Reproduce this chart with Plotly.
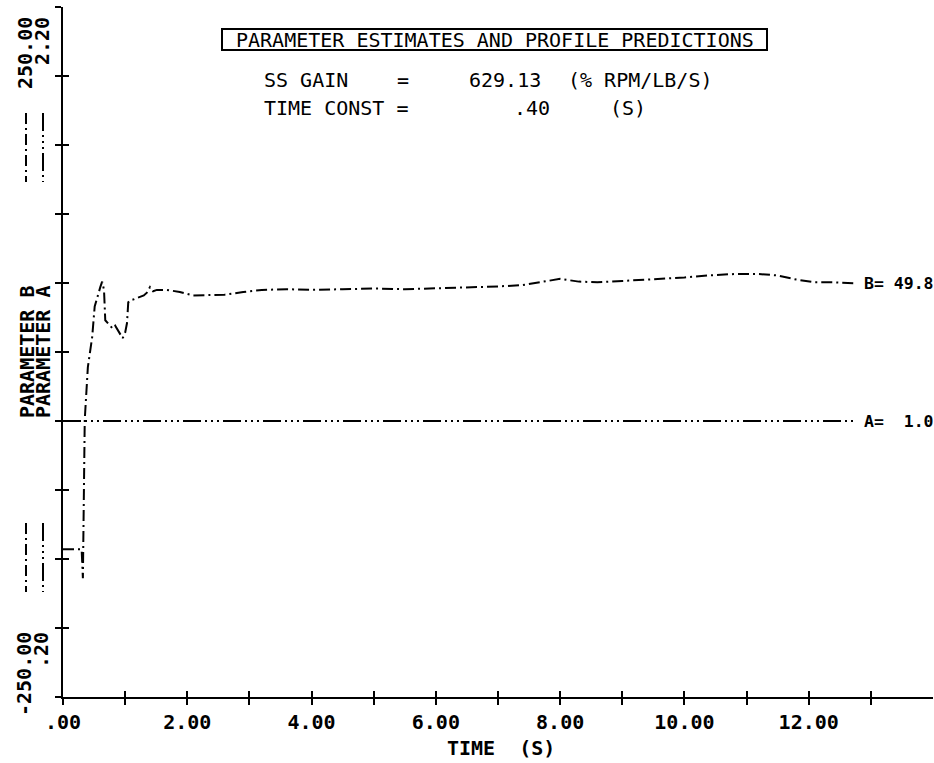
import plotly.graph_objects as go

# ---------------- data ----------------
TIME_B = [0.00, 0.24, 0.30, 0.32, 0.34, 0.35, 0.40, 0.47, 0.51, 0.56, 0.60, 0.63,
          0.66, 0.68, 0.72, 0.80, 0.84, 0.88, 0.92, 0.96, 1.00, 1.03, 1.05, 1.10,
          1.13, 1.24, 1.30, 1.35, 1.40, 1.45, 1.51, 1.67, 1.88, 2.09, 2.30, 2.60,
          2.90, 3.20, 3.60, 4.00, 4.50, 5.00, 5.50, 6.00, 6.50, 7.00, 7.40, 7.70,
          8.00, 8.30, 8.60, 9.00, 9.50, 10.00, 10.40, 10.80, 11.20, 11.50, 11.80,
          12.10, 12.40, 12.77]
PARAM_B = [-143, -143, -143, -164, -100, -49, -11, 11, 33, 42, 47, 51,
           45, 23, 21, 17, 19, 16, 14, 10, 14, 21, 36, 38,
           38, 40, 41, 43, 47, 44, 45, 45, 43.5, 41, 41, 41.5,
           43.5, 45, 45.5, 45, 45.5, 46, 45.5, 46, 47, 47.5, 48.5, 51,
           53, 51, 50.5, 51.5, 52.5, 54, 55.5, 56.5, 56.5, 55.5, 52.5,
           50.5, 50.5, 49.8]

TIME_A = [0.00, 12.77]
PARAM_A = [1.0, 1.0]

X_TICKS = [0, 1, 2, 3, 4, 5, 6, 7, 8, 9, 10, 11, 12, 13]
X_TICK_TEXT = [".00", "", "2.00", "", "4.00", "", "6.00", "", "8.00", "",
               "10.00", "", "12.00", ""]
Y_TICKS_B = [-250, -200, -150, -100, -50, 0, 50, 100, 150, 200, 250]
B_AXIS_LABELS = ["250.00", "-250.00"]
A_AXIS_LABELS = ["2.20", ".20"]
B_RANGE = [-250, 250]
A_RANGE = [0.20, 2.20]
X_RANGE = [0, 14.0]

TITLE = "PARAMETER ESTIMATES AND PROFILE PREDICTIONS"
SS_GAIN = "629.13"
SS_GAIN_UNIT = "(% RPM/LB/S)"
TIME_CONST = ".40"
TIME_CONST_UNIT = "(S)"

# ---------------- layout helpers (pixel -> paper) ----------------
W, H = 934, 763
L, R, T, B = 63, 1, 7, 66
PW, PH = W - L - R, H - T - B


def px(xp):
    return (xp - L) / PW


def py(yp):
    return (H - B - yp) / PH


MONO = "DejaVu Sans Mono"
txt_font = dict(family=MONO, size=20, color="black")
bold_font = dict(family=MONO, size=20, color="black", weight="bold")
small_bold = dict(family=MONO, size=16.5, color="black", weight="bold")

B_DASH = "11px,4px,2px,4px"
A_DASH = "18px,4px,2px,4px,2px,4px,2px,4px"

fig = go.Figure()

fig.add_trace(go.Scatter(
    x=TIME_B, y=PARAM_B, mode="lines", xaxis="x", yaxis="y",
    line=dict(color="black", width=2, dash=B_DASH), hoverinfo="skip"))
fig.add_trace(go.Scatter(
    x=TIME_A, y=PARAM_A, mode="lines", xaxis="x", yaxis="y2",
    line=dict(color="black", width=2, dash=A_DASH), hoverinfo="skip"))
# invisible trace so the inside-tick overlay axes get drawn
fig.add_trace(go.Scatter(x=[X_RANGE[0]], y=[B_RANGE[0]], mode="markers",
                         xaxis="x2", yaxis="y3", marker=dict(opacity=0),
                         hoverinfo="skip"))

axis_common = dict(showgrid=False, zeroline=False, tickcolor="black",
                   tickwidth=2, ticklen=6)

fig.update_layout(
    width=W, height=H,
    margin=dict(l=L, r=R, t=T, b=B),
    paper_bgcolor="white", plot_bgcolor="white",
    showlegend=False,
    xaxis=dict(range=X_RANGE, tickvals=X_TICKS, ticktext=X_TICK_TEXT,
               ticks="outside", showline=True, linecolor="black", linewidth=2,
               tickfont=bold_font, anchor="y", **axis_common),
    yaxis=dict(range=B_RANGE, tickvals=Y_TICKS_B, showticklabels=False,
               ticks="outside", showline=True, linecolor="black", linewidth=2,
               anchor="x", **axis_common),
    yaxis2=dict(range=A_RANGE, overlaying="y", visible=False, anchor="x"),
    xaxis2=dict(range=X_RANGE, tickvals=X_TICKS, showticklabels=False,
                ticks="inside", showline=False, overlaying="x", anchor="y3",
                **axis_common),
    yaxis3=dict(range=B_RANGE, tickvals=Y_TICKS_B, showticklabels=False,
                ticks="inside", showline=False, overlaying="y", anchor="x2",
                **axis_common),
)

ann = []
# header box text
ann.append(dict(text=TITLE, x=px(494.5), y=py(40), xanchor="center",
                yanchor="middle", font=txt_font))
ann.append(dict(text="SS GAIN", x=px(262), y=py(80), xanchor="left",
                yanchor="middle", font=txt_font))
ann.append(dict(text="=", x=px(403), y=py(80), xanchor="center",
                yanchor="middle", font=txt_font))
ann.append(dict(text=SS_GAIN, x=px(505), y=py(80), xanchor="center",
                yanchor="middle", font=txt_font))
ann.append(dict(text=SS_GAIN_UNIT, x=px(640), y=py(80), xanchor="center",
                yanchor="middle", font=txt_font))
ann.append(dict(text="TIME CONST =", x=px(262), y=py(108), xanchor="left",
                yanchor="middle", font=txt_font))
ann.append(dict(text=TIME_CONST, x=px(532), y=py(108), xanchor="center",
                yanchor="middle", font=txt_font))
ann.append(dict(text=TIME_CONST_UNIT, x=px(628), y=py(108), xanchor="center",
                yanchor="middle", font=txt_font))

# rotated y-axis end labels
ann.append(dict(text=B_AXIS_LABELS[0], x=px(25), y=py(15), xanchor="center",
                yanchor="top", textangle=-90, font=bold_font))
ann.append(dict(text=A_AXIS_LABELS[0], x=px(42), y=py(15), xanchor="center",
                yanchor="top", textangle=-90, font=bold_font))
ann.append(dict(text=B_AXIS_LABELS[1], x=px(24), y=py(630), xanchor="center",
                yanchor="top", textangle=-90, font=bold_font))
ann.append(dict(text=A_AXIS_LABELS[1], x=px(41), y=py(630), xanchor="center",
                yanchor="top", textangle=-90, font=bold_font))
# y-axis titles
ann.append(dict(text="PARAMETER B", x=px(27), y=0.5, xanchor="center",
                yanchor="middle", textangle=-90, font=bold_font))
ann.append(dict(text="PARAMETER A", x=px(43), y=0.5, xanchor="center",
                yanchor="middle", textangle=-90, font=bold_font))
# x-axis title
ann.append(dict(text="TIME\u00a0\u00a0(S)", x=px(501), y=py(748),
                xanchor="center", yanchor="middle", font=bold_font))
# end-of-curve labels
ann.append(dict(text=f"B=\u00a0{PARAM_B[-1]:.1f}", x=px(862), xanchor="left",
                yref="y", y=PARAM_B[-1], yanchor="middle", font=small_bold))
ann.append(dict(text=f"A=\u00a0\u00a0{PARAM_A[-1]:.1f}", x=px(862),
                xanchor="left", yref="y2", y=PARAM_A[-1], yanchor="middle",
                font=small_bold))

for a in ann:
    a.setdefault("xref", "paper")
    a.setdefault("yref", "paper")
    a["showarrow"] = False
fig.update_layout(annotations=ann)

shapes = [
    # header box
    dict(type="rect", xref="paper", yref="paper", x0=px(222), x1=px(767),
         y0=py(50), y1=py(29), line=dict(color="black", width=2)),
    # line-style keys next to the axis labels
    dict(type="line", xref="paper", yref="paper", x0=px(26), x1=px(26),
         y0=py(113), y1=py(182), line=dict(color="black", width=2, dash=B_DASH)),
    dict(type="line", xref="paper", yref="paper", x0=px(43), x1=px(43),
         y0=py(113), y1=py(182), line=dict(color="black", width=2, dash=A_DASH)),
    dict(type="line", xref="paper", yref="paper", x0=px(26), x1=px(26),
         y0=py(523), y1=py(592), line=dict(color="black", width=2, dash=B_DASH)),
    dict(type="line", xref="paper", yref="paper", x0=px(43), x1=px(43),
         y0=py(523), y1=py(592), line=dict(color="black", width=2, dash=A_DASH)),
]
fig.update_layout(shapes=shapes)

fig.write_html("out.html",
               config={"displayModeBar": False},
               post_script="document.body.style.margin='0px';"
                           "document.body.style.padding='0px';")
